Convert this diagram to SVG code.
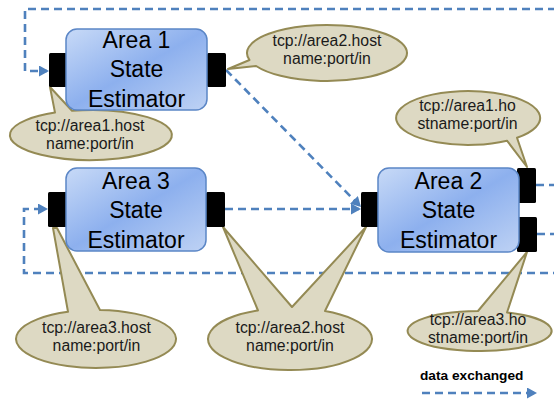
<svg xmlns="http://www.w3.org/2000/svg" width="554" height="401" viewBox="0 0 554 401">
  <defs>
    <linearGradient id="boxFill" x1="0" y1="0" x2="1" y2="1">
      <stop offset="0" stop-color="#c8daf7"/>
      <stop offset="0.5" stop-color="#8db0ee"/>
      <stop offset="1" stop-color="#bed2f4"/>
    </linearGradient>
    <marker id="arrow" markerUnits="userSpaceOnUse" viewBox="0 0 10 11" markerWidth="10" markerHeight="11" refX="8" refY="5.5" orient="auto">
      <path d="M0,0 L10,5.5 L0,11 Z" fill="#4f81bd"/>
    </marker>
    <style>
      .flow { fill: none; stroke: #4f81bd; stroke-width: 2.6; stroke-dasharray: 8 5; marker-end: url(#arrow); }
      .box { fill: url(#boxFill); stroke: #5b86c6; stroke-width: 1.5; }
      .port { fill: #000; }
      .title { font-family: "Liberation Sans", Arial, sans-serif; font-size: 23px; fill: #000; text-anchor: middle; }
      .callout { fill: #ddd9c3; stroke: #948a54; stroke-width: 2; stroke-linejoin: round; }
      .addr { font-family: "Liberation Sans", Arial, sans-serif; font-size: 15.8px; fill: #1a1a1a; text-anchor: middle; }
      .legend { font-family: "Liberation Sans", Arial, sans-serif; font-size: 13.7px; font-weight: bold; fill: #000; }
    </style>
  </defs>

  <rect width="554" height="401" fill="#ffffff"/>

  <!-- data links between the estimators -->
  <g id="connectors">
    <path class="flow" d="M536 185 H562 V9 H25 V71 H47"/>
    <path class="flow" d="M226 70 L359.6 205.6"/>
    <path class="flow" d="M225 209 H359"/>
    <path class="flow" d="M537 234 H562 V273 H24 V209 H46"/>
  </g>

  <!-- address callouts -->
  <g id="addr-area1-in">
    <path class="callout" d="M55 112.6 L50 87 L72 110.7 A81 25 0 1 1 55 112.6 Z"/>
    <text class="addr" x="90" y="131">tcp://area1.host</text>
    <text class="addr" x="90" y="148.5">name:port/in</text>
  </g>
  <g id="addr-area2-in-top">
    <path class="callout" d="M256.1 66 L228 69 L249.5 60 A80 28 0 1 1 256.1 66 Z"/>
    <text class="addr" x="327" y="45.5">tcp://area2.host</text>
    <text class="addr" x="327" y="63.5">name:port/in</text>
  </g>
  <g id="addr-area1-in-right">
    <path class="callout" d="M517 137.8 L527 167 L507 140.7 A72 27 0 1 1 517 137.8 Z"/>
    <text class="addr" x="467.5" y="111">tcp://area1.ho</text>
    <text class="addr" x="467.5" y="128.5">stname:port/in</text>
  </g>
  <g id="addr-area3-in">
    <path class="callout" d="M68 311.8 L53 228 L57 228 L100 310 A80 29 0 1 1 68 311.8 Z"/>
    <text class="addr" x="96.5" y="333">tcp://area3.host</text>
    <text class="addr" x="96.5" y="350.5">name:port/in</text>
  </g>
  <g id="addr-area2-in-bottom">
    <path class="callout" d="M258 310.5 L223 227 L292 307 L366 227 L325 311 A82 31 0 1 1 258 310.5 Z"/>
    <text class="addr" x="290" y="333">tcp://area2.host</text>
    <text class="addr" x="290" y="350.5">name:port/in</text>
  </g>
  <g id="addr-area3-in-right">
    <path class="callout" d="M478 311 L527 252 L507 312.5 A72 20 0 1 1 478 311 Z"/>
    <text class="addr" x="478" y="325">tcp://area3.ho</text>
    <text class="addr" x="478" y="342.5">stname:port/in</text>
  </g>

  <!-- estimator nodes -->
  <g id="area1">
    <rect class="port" x="49" y="53" width="18" height="34" rx="1.5"/>
    <rect class="port" x="207" y="53" width="19" height="34" rx="1.5"/>
    <rect class="box" x="66" y="29" width="141" height="81" rx="11"/>
    <text class="title" x="136.5" y="47.5">Area 1</text>
    <text class="title" x="136.5" y="77">State</text>
    <text class="title" x="136.5" y="106.5">Estimator</text>
  </g>
  <g id="area3">
    <rect class="port" x="48" y="192" width="19" height="35" rx="1.5"/>
    <rect class="port" x="206" y="192" width="19" height="35" rx="1.5"/>
    <rect class="box" x="66" y="168" width="140" height="83" rx="11"/>
    <text class="title" x="136" y="188.5">Area 3</text>
    <text class="title" x="136" y="218">State</text>
    <text class="title" x="136" y="247.5">Estimator</text>
  </g>
  <g id="area2">
    <rect class="port" x="361" y="192" width="18" height="35" rx="1.5"/>
    <rect class="port" x="517" y="168" width="19" height="35" rx="1.5"/>
    <rect class="port" x="517" y="217" width="20" height="35" rx="1.5"/>
    <rect class="box" x="378" y="168" width="141" height="84" rx="11"/>
    <text class="title" x="448.5" y="188.5">Area 2</text>
    <text class="title" x="448.5" y="218">State</text>
    <text class="title" x="448.5" y="247.5">Estimator</text>
  </g>

  <!-- legend -->
  <g id="legend">
    <text class="legend" x="420" y="380">data exchanged</text>
    <path class="flow" d="M422 393 H535"/>
  </g>
</svg>
